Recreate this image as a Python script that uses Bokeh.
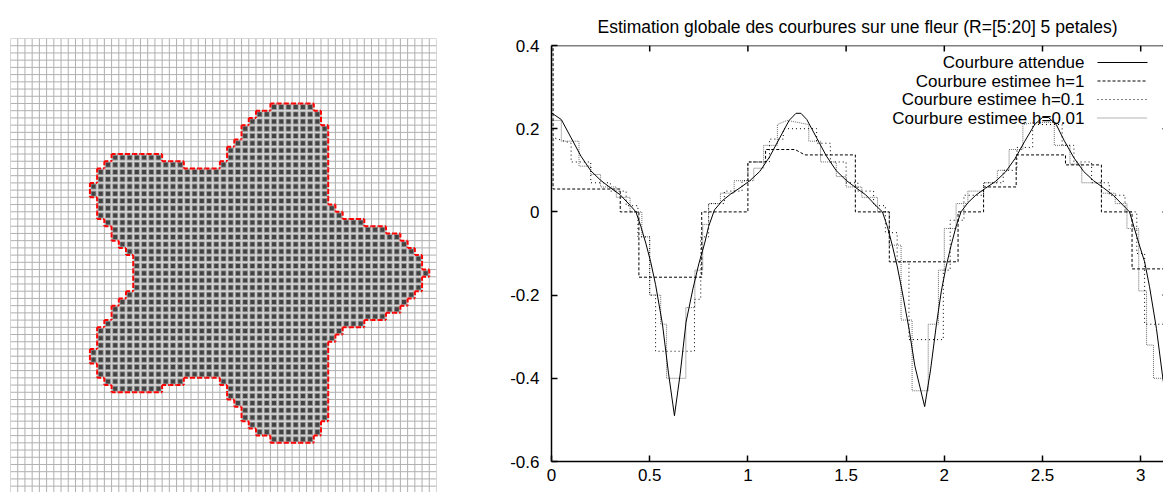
from bokeh.plotting import figure
from bokeh.layouts import row
from bokeh.models import Range1d, FixedTicker, Span, Label
from bokeh.embed import file_html
from bokeh.resources import INLINE

# ---------------- data: digitised flower (row -> filled column spans [start, end)) ----------------
GRID_COLS = 59
GRID_ROWS = 65
flower_rows = [
    (9, [(36, 42)]), (10, [(34, 43)]), (11, [(33, 43)]), (12, [(32, 44)]), (13, [(32, 44)]),
    (14, [(31, 44)]), (15, [(30, 44)]), (16, [(14, 21), (30, 44)]), (17, [(13, 24), (29, 44)]),
    (18, [(12, 44)]), (19, [(12, 44)]), (20, [(11, 44)]), (21, [(11, 44)]), (22, [(12, 44)]),
    (23, [(12, 45)]), (24, [(12, 46)]), (25, [(13, 49)]), (26, [(14, 52)]), (27, [(14, 54)]),
    (28, [(15, 55)]), (29, [(16, 56)]), (30, [(17, 57)]), (31, [(17, 57)]), (32, [(17, 58)]),
    (33, [(17, 57)]), (34, [(17, 57)]), (35, [(16, 56)]), (36, [(15, 55)]), (37, [(14, 54)]),
    (38, [(14, 52)]), (39, [(13, 49)]), (40, [(12, 46)]), (41, [(12, 45)]), (42, [(12, 44)]),
    (43, [(11, 44)]), (44, [(11, 44)]), (45, [(12, 44)]), (46, [(12, 44)]),
    (47, [(13, 24), (29, 44)]), (48, [(14, 21), (30, 44)]), (49, [(30, 44)]), (50, [(31, 44)]),
    (51, [(32, 44)]), (52, [(32, 44)]), (53, [(33, 43)]), (54, [(34, 43)]), (55, [(36, 42)]),
]

# ---------------- data: curvature curves ----------------
title_text = "Estimation globale des courbures sur une fleur (R=[5:20] 5 petales)"
x_ticks = [0, 0.5, 1, 1.5, 2, 2.5, 3]
x_tick_labels = ["0", "0.5", "1", "1.5", "2", "2.5", "3"]
y_ticks = [-0.6, -0.4, -0.2, 0, 0.2, 0.4]
y_tick_labels = ["-0.6", "-0.4", "-0.2", "0", "0.2", "0.4"]
legend_labels = ["Courbure attendue", "Courbure estimee h=1",
                 "Courbure estimee h=0.1", "Courbure estimee h=0.01"]
X_AXIS_END = 3.1416  # right border of the plot box (beyond the visible window)

expected_x = [0.00, 0.05, 0.10, 0.15, 0.20, 0.25, 0.30, 0.35, 0.40, 0.43, 0.455, 0.48, 0.505,
              0.53, 0.565, 0.595, 0.626, 0.655, 0.685, 0.72, 0.75, 0.78, 0.80, 0.83, 0.87,
              0.91, 0.96, 1.01, 1.06, 1.11, 1.16, 1.21, 1.245, 1.27, 1.30, 1.35, 1.40, 1.45,
              1.50, 1.55, 1.60, 1.65, 1.685, 1.71, 1.735, 1.76, 1.785, 1.82, 1.85, 1.90, 1.93,
              1.96, 1.985, 2.01, 2.035, 2.06, 2.085, 2.12, 2.16, 2.21, 2.26, 2.31, 2.36, 2.41,
              2.46, 2.50, 2.53, 2.57, 2.61, 2.66, 2.71, 2.76, 2.81, 2.86, 2.91, 2.943, 2.99,
              3.02, 3.045, 3.08, 3.11, 3.14]
expected_y = [0.238, 0.222, 0.178, 0.134, 0.099, 0.076, 0.058, 0.041, 0.016, 0.000, -0.035,
              -0.075, -0.12, -0.175, -0.27, -0.385, -0.490, -0.39, -0.265, -0.185, -0.125,
              -0.075, -0.035, 0.005, 0.027, 0.042, 0.058, 0.075, 0.097, 0.132, 0.176, 0.220,
              0.237, 0.237, 0.222, 0.178, 0.134, 0.099, 0.076, 0.058, 0.041, 0.016, 0.000,
              -0.035, -0.08, -0.13, -0.19, -0.28, -0.37, -0.468, -0.38, -0.27, -0.19, -0.13,
              -0.08, -0.035, 0.000, 0.022, 0.040, 0.057, 0.073, 0.095, 0.128, 0.170, 0.210,
              0.227, 0.227, 0.210, 0.172, 0.130, 0.097, 0.075, 0.058, 0.040, 0.016, 0.000,
              -0.075, -0.12, -0.18, -0.28, -0.39, -0.49]

h1_x = [0, 0.008, 0.008, 0.35, 0.35, 0.445, 0.445, 0.765, 0.765, 1.0, 1.0, 1.09, 1.09, 1.24,
        1.29, 1.547, 1.547, 1.72, 1.72, 2.07, 2.07, 2.2, 2.2, 2.366, 2.366, 2.617, 2.617, 2.80,
        2.80, 2.956, 2.956, 3.2]
h1_y = [0.45, 0.45, 0.055, 0.055, 0.0, 0.0, -0.157, -0.157, 0.0, 0.0, 0.12, 0.12, 0.15, 0.15,
        0.137, 0.137, 0.0, 0.0, -0.12, -0.12, 0.0, 0.0, 0.06, 0.06, 0.137, 0.137, 0.113, 0.113,
        0.0, 0.0, -0.137, -0.137]

h01_x = [0, 0.1, 0.1, 0.2, 0.2, 0.3, 0.3, 0.38, 0.38, 0.44, 0.44, 0.5, 0.5, 0.53, 0.53, 0.728,
         0.728, 0.76, 0.76, 0.8, 0.8, 0.88, 0.88, 0.97, 0.97, 1.0, 1.0, 1.11, 1.11, 1.18, 1.18,
         1.35, 1.35, 1.42, 1.42, 1.5, 1.5, 1.56, 1.56, 1.64, 1.64, 1.7, 1.7, 1.76, 1.76, 1.82,
         1.82, 1.995, 1.995, 2.03, 2.03, 2.1, 2.1, 2.2, 2.2, 2.3, 2.3, 2.37, 2.37, 2.45, 2.45,
         2.6, 2.6, 2.66, 2.66, 2.75, 2.75, 2.84, 2.84, 2.92, 2.92, 2.98, 2.98, 3.02, 3.02, 3.2]
h01_y = [0.18, 0.165, 0.12, 0.12, 0.07, 0.07, 0.05, 0.05, 0.015, 0.015, -0.06, -0.06, -0.2,
         -0.2, -0.335, -0.335, -0.21, -0.21, -0.06, -0.06, 0.02, 0.02, 0.05, 0.05, 0.075, 0.075,
         0.12, 0.12, 0.175, 0.175, 0.2, 0.2, 0.165, 0.165, 0.12, 0.12, 0.07, 0.07, 0.05, 0.05,
         0.015, 0.015, -0.05, -0.05, -0.12, -0.12, -0.307, -0.307, -0.14, -0.14, -0.02, -0.02,
         0.04, 0.04, 0.07, 0.07, 0.1, 0.1, 0.155, 0.155, 0.21, 0.21, 0.16, 0.16, 0.12, 0.12,
         0.07, 0.07, 0.04, 0.04, 0.0, 0.0, -0.1, -0.1, -0.27, -0.27]

h001_x = [0, 0.05, 0.05, 0.14, 0.14, 0.2, 0.2, 0.25, 0.25, 0.33, 0.33, 0.4, 0.4, 0.46, 0.46,
          0.5, 0.5, 0.556, 0.556, 0.586, 0.586, 0.684, 0.684, 0.73, 0.73, 0.77, 0.77, 0.8, 0.8,
          0.86, 0.86, 0.93, 0.93, 1.03, 1.03, 1.08, 1.08, 1.15, 1.15, 1.2, 1.31, 1.31, 1.37,
          1.37, 1.45, 1.45, 1.5, 1.5, 1.58, 1.58, 1.66, 1.66, 1.72, 1.72, 1.78, 1.78, 1.836,
          1.836, 1.918, 1.918, 1.97, 1.97, 2.0, 2.0, 2.06, 2.06, 2.12, 2.12, 2.2, 2.2, 2.27,
          2.27, 2.33, 2.33, 2.4, 2.4, 2.46, 2.56, 2.56, 2.64, 2.64, 2.7, 2.7, 2.8, 2.8, 2.87,
          2.87, 2.93, 2.93, 2.99, 2.99, 3.03, 3.03, 3.065, 3.065, 3.2]
h001_y = [0.22, 0.22, 0.17, 0.17, 0.11, 0.11, 0.09, 0.09, 0.06, 0.06, 0.035, 0.035, 0.0, 0.0,
          -0.06, -0.06, -0.2, -0.2, -0.27, -0.27, -0.40, -0.40, -0.23, -0.23, -0.14, -0.14,
          -0.03, -0.03, 0.02, 0.02, 0.045, 0.045, 0.075, 0.075, 0.105, 0.105, 0.16, 0.16, 0.21,
          0.22, 0.21, 0.17, 0.17, 0.12, 0.12, 0.085, 0.085, 0.06, 0.06, 0.035, 0.035, 0.0, 0.0,
          -0.08, -0.08, -0.26, -0.26, -0.43, -0.43, -0.27, -0.27, -0.14, -0.14, -0.04, -0.04,
          0.02, 0.02, 0.05, 0.05, 0.07, 0.07, 0.1, 0.1, 0.15, 0.15, 0.21, 0.215, 0.215, 0.16,
          0.16, 0.115, 0.115, 0.07, 0.07, 0.045, 0.045, 0.02, 0.02, -0.04, -0.04, -0.19, -0.19,
          -0.32, -0.32, -0.40, -0.40]

FONT = "Liberation Sans"
TOTAL_W, TOTAL_H = 1163, 492

# ---------------- left panel: digitised flower on a grid ----------------
CELL_PX = 7.22
LEFT_W = 452
L_TOP, L_LEFT = 38, 10
left_frame_h = TOTAL_H - L_TOP
left_frame_w = GRID_COLS * CELL_PX
left = figure(width=LEFT_W, height=TOTAL_H, output_backend="svg", toolbar_location=None,
              x_axis_type=None, y_axis_type=None,
              x_range=Range1d(0, GRID_COLS), y_range=Range1d(left_frame_h / CELL_PX, 0),
              min_border_left=L_LEFT, min_border_right=int(round(LEFT_W - L_LEFT - left_frame_w)),
              min_border_top=L_TOP, min_border_bottom=0)
left.grid.visible = False
left.outline_line_color = None

cols = list(range(GRID_COLS + 1))
rows = list(range(GRID_ROWS + 1))
left.segment(x0=cols, y0=[0] * len(cols), x1=cols, y1=[GRID_ROWS] * len(cols),
             line_color="#b0b0b0", line_width=1)
left.segment(x0=[0] * len(rows), y0=rows, x1=[GRID_COLS] * len(rows), y1=rows,
             line_color="#b0b0b0", line_width=1)

filled = set()
for r, spans in flower_rows:
    for a, b in spans:
        for c in range(a, b):
            filled.add((c, r))
cells = sorted(filled)
cx = [c + 0.5 for c, r in cells]
cy = [r + 0.5 for c, r in cells]
left.rect(cx, cy, width=1, height=1, fill_color="#dadada", line_color=None)
left.rect(cx, cy, width=0.8, height=0.8, fill_color="#959595", line_color=None)
left.rect(cx, cy, width=0.55, height=0.55, fill_color="#424242", line_color=None)

bx0, by0, bx1, by1 = [], [], [], []
for c, r in cells:
    if (c - 1, r) not in filled:
        bx0.append(c); by0.append(r); bx1.append(c); by1.append(r + 1)
    if (c + 1, r) not in filled:
        bx0.append(c + 1); by0.append(r); bx1.append(c + 1); by1.append(r + 1)
    if (c, r - 1) not in filled:
        bx0.append(c); by0.append(r); bx1.append(c + 1); by1.append(r)
    if (c, r + 1) not in filled:
        bx0.append(c); by0.append(r + 1); bx1.append(c + 1); by1.append(r + 1)
left.segment(x0=bx0, y0=by0, x1=bx1, y1=by1, line_color="#ff0000", line_width=2,
             line_dash="4 2")

# ---------------- right panel: curvature plot ----------------
Y_MIN, Y_MAX = -0.6, 0.4
R_W = TOTAL_W - LEFT_W
R_LEFT, R_TOP, R_BOTTOM = 551 - LEFT_W, 45, TOTAL_H - 461
FRAME_W = R_W - R_LEFT
FRAME_H = TOTAL_H - R_TOP - R_BOTTOM
PX_PER_X = 196.4
X_MAX = FRAME_W / PX_PER_X
right = figure(width=R_W, height=TOTAL_H, output_backend="svg", toolbar_location=None,
               x_range=Range1d(0, X_MAX), y_range=Range1d(Y_MIN, Y_MAX),
               min_border_left=R_LEFT, min_border_right=0, min_border_top=R_TOP,
               min_border_bottom=R_BOTTOM, title=title_text)
right.title.text_font = FONT
right.title.text_font_size = "17.5px"
right.title.text_font_style = "normal"
right.title.align = "center"
right.title.text_color = "black"
right.title.standoff = 17
right.grid.visible = False
right.outline_line_color = None

for f in (left, right):
    if "frame_align" in f.properties():
        f.frame_align = False

right.xaxis.ticker = FixedTicker(ticks=x_ticks)
right.xaxis.major_label_overrides = {t: s for t, s in zip(x_ticks, x_tick_labels)}
right.yaxis.ticker = FixedTicker(ticks=y_ticks)
right.yaxis.major_label_overrides = {t: s for t, s in zip(y_ticks, y_tick_labels)}
for ax in right.axis:
    ax.axis_line_color = "black"
    ax.axis_line_width = 1.5
    ax.major_tick_line_color = "black"
    ax.major_tick_line_width = 1.5
    ax.major_tick_in = 6
    ax.major_tick_out = 0
    ax.minor_tick_line_color = None
    ax.major_label_text_font = FONT
    ax.major_label_text_font_size = "17px"
    ax.major_label_text_color = "black"
right.yaxis.major_label_standoff = 12
right.xaxis.major_label_standoff = 7

px_x = X_MAX / FRAME_W
px_y = (Y_MAX - Y_MIN) / FRAME_H
right.add_layout(Span(location=Y_MAX, dimension="width", line_color="black", line_width=1.5))
right.segment(x0=x_ticks, y0=[Y_MAX] * len(x_ticks), x1=x_ticks,
              y1=[Y_MAX - 6 * px_y] * len(x_ticks), line_color="black", line_width=1.5)
right.segment(x0=[X_AXIS_END - 6 * px_x] * len(y_ticks), y0=y_ticks,
              x1=[X_AXIS_END] * len(y_ticks), y1=y_ticks, line_color="black", line_width=1.5)

styles = [
    dict(line_color="black", line_width=1),
    dict(line_color="black", line_width=1, line_dash="3 2"),
    dict(line_color="black", line_width=1, line_dash="1 3"),
    dict(line_color="#6a6a6a", line_width=1, line_dash="1 1"),
]
series = [(expected_x, expected_y), (h1_x, h1_y), (h01_x, h01_y), (h001_x, h001_y)]
for (xs, ys), st in list(zip(series, styles))[::-1]:
    right.line(xs, ys, **st)

# legend (text left of sample, gnuplot style)
leg_px_y = [62, 80.5, 99, 117.5]
text_right_x = (1084 - 551) * px_x
samp_x0 = (1097 - 551) * px_x
samp_x1 = (1147 - 551) * px_x
for lab, py, st in zip(legend_labels, leg_px_y, styles):
    yy = Y_MAX - (py - R_TOP) * px_y
    right.add_layout(Label(x=text_right_x, y=yy, text=lab, text_align="right",
                           text_baseline="middle", text_font=FONT, text_font_size="17px",
                           text_color="black"))
    right.line([samp_x0, samp_x1], [yy, yy], **st)

layout = row(left, right)
open("out.html", "w").write(file_html(layout, INLINE))
